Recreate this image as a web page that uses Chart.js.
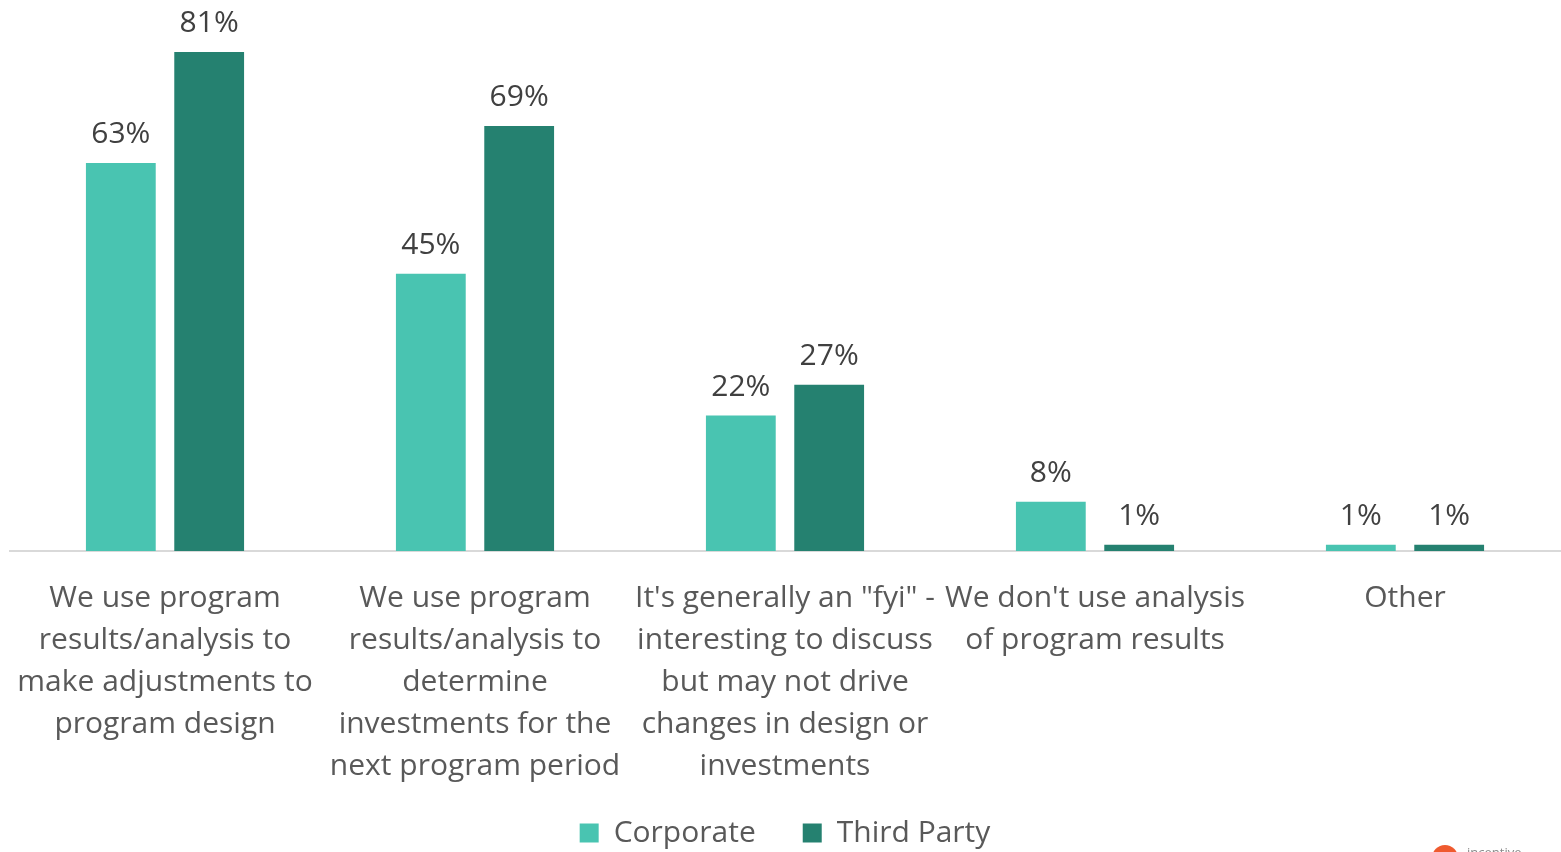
<!DOCTYPE html>
<html>
<head>
<meta charset="utf-8">
<script src="https://cdn.jsdelivr.net/npm/chart.js@4"></script>
<style>
  html, body { margin: 0; padding: 0; background: #ffffff; }
  #wrap { position: relative; width: 1561px; height: 852px; }
</style>
</head>
<body>
<div id="wrap"><canvas id="chart" width="1561" height="852"></canvas></div>
<script>
// Survey answers: how program results/analysis are used
const categories = [
  ["We use program", "results/analysis to", "make adjustments to", "program design"],
  ["We use program", "results/analysis to", "determine", "investments for the", "next program period"],
  ["It's generally an \"fyi\" -", "interesting to discuss", "but may not drive", "changes in design or", "investments"],
  ["We don't use analysis", "of program results"],
  ["Other"]
];
const seriesNames = ["Corporate", "Third Party"];
const corporate = [63, 45, 22, 8, 1];
const thirdParty = [81, 69, 27, 1, 1];

const FONT = "'Open Sans', 'Noto Sans', sans-serif";

// Percentage labels above each bar
const valueLabels = {
  id: 'valueLabels',
  afterDatasetsDraw(chart) {
    const ctx = chart.ctx;
    ctx.save();
    ctx.font = "30px " + FONT;
    ctx.fillStyle = '#404040';
    ctx.textAlign = 'center';
    ctx.textBaseline = 'alphabetic';
    chart.data.datasets.forEach((ds, i) => {
      chart.getDatasetMeta(i).data.forEach((bar, j) => {
        ctx.fillText(ds.data[j] + '%', bar.x, bar.y - 20);
      });
    });
    ctx.restore();
  }
};

// Small brand mark in the lower right corner
const brandMark = {
  id: 'brandMark',
  afterDraw(chart) {
    const ctx = chart.ctx;
    ctx.save();
    ctx.fillStyle = '#ef5a2f';
    ctx.beginPath();
    ctx.arc(1445, 858, 13, 0, Math.PI * 2);
    ctx.fill();
    ctx.fillStyle = '#8a8a8a';
    ctx.font = "13px " + FONT;
    ctx.textBaseline = 'alphabetic';
    ctx.fillText('incentive', 1467, 857);
    ctx.restore();
  }
};

new Chart(document.getElementById('chart'), {
  type: 'bar',
  data: {
    labels: categories,
    datasets: [
      { label: seriesNames[0], data: corporate, backgroundColor: '#49c4b1' },
      { label: seriesNames[1], data: thirdParty, backgroundColor: '#258170' }
    ]
  },
  options: {
    responsive: false,
    animation: false,
    layout: { padding: { left: 10, right: 1, top: 9, bottom: -6 } },
    datasets: {
      bar: { categoryPercentage: 0.57, barPercentage: 0.79 }
    },
    scales: {
      x: {
        grid: { display: false, drawTicks: false },
        border: { display: true, color: '#d9d9d9', width: 2 },
        ticks: {
          autoSkip: false,
          maxRotation: 0,
          minRotation: 0,
          padding: 26,
          color: '#595959',
          font: { family: FONT, size: 30, lineHeight: 1.4 }
        },
        afterFit(scale) {
          // labels fit inside their categories; keep the axis full width
          scale.paddingLeft = 0;
          scale.paddingRight = 0;
          scale.height = 240;
        }
      },
      y: {
        display: false,
        min: 0,
        max: 88
      }
    },
    plugins: {
      legend: {
        position: 'bottom',
        labels: {
          boxWidth: 19,
          boxHeight: 19,
          padding: 27,
          color: '#595959',
          font: { family: FONT, size: 30 },
          generateLabels(chart) {
            const items = Chart.defaults.plugins.legend.labels.generateLabels(chart);
            // a little extra room after the first entry
            items[0].text = items[0].text + '\u2002\u2009';
            return items;
          }
        }
      },
      tooltip: { enabled: false }
    }
  },
  plugins: [valueLabels, brandMark]
});
</script>
</body>
</html>
